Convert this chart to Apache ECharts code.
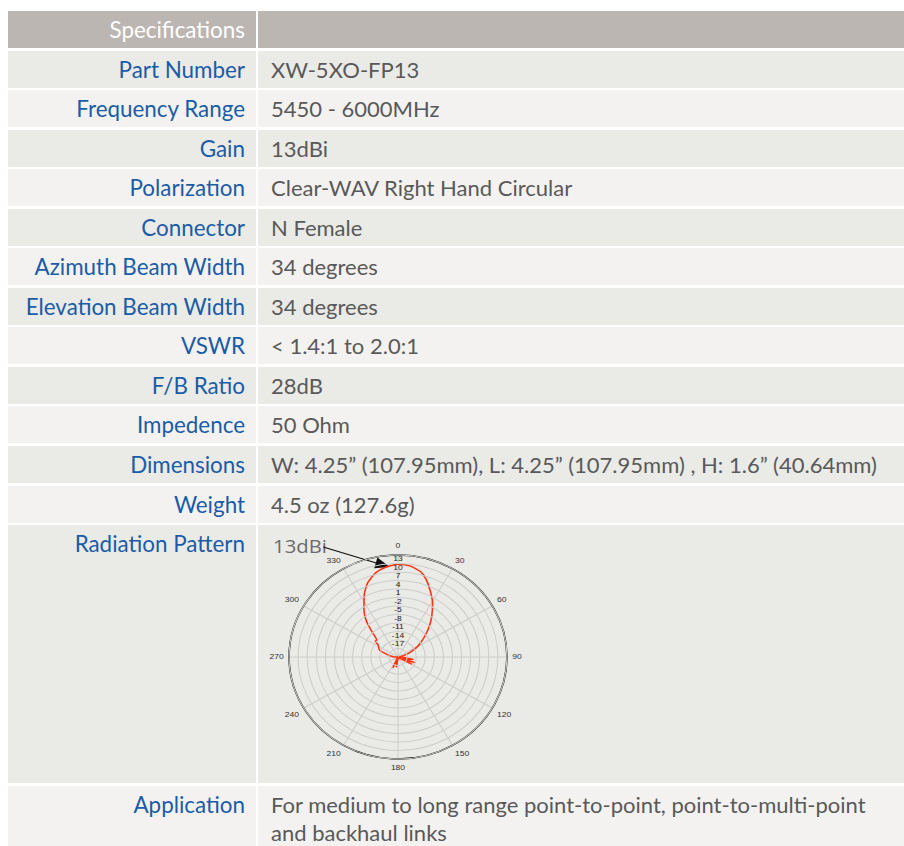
<!DOCTYPE html>
<html>
<head>
<meta charset="utf-8">
<script src="https://cdn.jsdelivr.net/npm/echarts@6/dist/echarts.min.js"></script>
<style>
  html, body { margin: 0; padding: 0; background: #ffffff; width: 904px; height: 846px; overflow: hidden; }
  .cell { position: absolute; box-sizing: border-box; font-family: Lato, "Open Sans", sans-serif; font-size: 22px; }
  .lab { left: 8px; width: 248px; text-align: right; color: #1a5ca8; font-size: 22.4px; }
  .val { left: 258px; right: 0; color: #595959; }
  .rowA { background: #eaeae6; }
  .rowB { background: #f3f2f0; }
  .hdr { background: #bbb6b2; color: #ffffff; }
  .txt { position: absolute; white-space: nowrap; }
  #chart { position: absolute; left: 258px; top: 525px; width: 300px; height: 258px; transform-origin: 140px 132px; transform: scaleX(1.068); }
</style>
</head>
<body>
<div id="table"></div>
<div id="chart"></div>
<script>
// ---- table content ----
const headerLabel = "Specifications";
const rowLabels = ["Part Number", "Frequency Range", "Gain", "Polarization", "Connector",
  "Azimuth Beam Width", "Elevation Beam Width", "VSWR", "F/B Ratio", "Impedence",
  "Dimensions", "Weight", "Radiation Pattern", "Application"];
const rowValues = ["XW-5XO-FP13", "5450 - 6000MHz", "13dBi", "Clear-WAV Right Hand Circular",
  "N Female", "34 degrees", "34 degrees", "< 1.4:1 to 2.0:1", "28dB", "50 Ohm",
  "W: 4.25\u201d (107.95mm), L: 4.25\u201d (107.95mm) , H: 1.6\u201d (40.64mm)", "4.5 oz (127.6g)", "",
  "For medium to long range point-to-point, point-to-multi-point\nand backhaul links"];

// ---- radiation pattern ----
const annotationText = "13dBi";
const angleTicks = [0, 30, 60, 90, 120, 150, 180, 210, 240, 270, 300, 330];
const radiusTickLabels = ["-17", "-14", "-11", "-8", "-5", "-2", "1", "4", "7", "10", "13"];
const radiusMinDb = -23;
const radiusMaxDb = 13;
const radiusStepDb = 3;
const patternAngles = [0, 7, 14, 19, 25, 31, 38, 45, 51, 55, 60, 64, 70, 75, 85, 95, 100, 106, 110, 115, 119, 124, 135, 160, 180, 188, 196, 204, 212, 240, 265, 272, 284, 292, 303, 307, 310, 315, 320, 326, 333, 339, 346, 353, 360];
const patternGainDb = [9.8, 9.4, 8.0, 5.8, 2.4, -0.8, -4.9, -8.7, -11.8, -13.6, -15.5, -17.4, -19.5, -21.2, -22.5, -21.0, -17.8, -21.5, -17.0, -21.5, -17.8, -22.0, -22.8, -23.0, -22.5, -19.3, -22.0, -18.8, -22.5, -23.0, -22.5, -21.4, -19.2, -16.4, -15.2, -13.6, -13.9, -11.4, -7.0, -2.9, 1.6, 5.0, 7.6, 9.0, 9.8];

// ---- build table ----
const table = document.getElementById('table');
const pitch = 39.55, firstTop = 50.5, rowH = 37;
function addRow(top, height, cls, label, value) {
  const l = document.createElement('div');
  l.className = 'cell lab ' + cls;
  l.style.top = top + 'px'; l.style.height = height + 'px';
  const lt = document.createElement('span');
  lt.className = 'txt'; lt.textContent = label;
  lt.style.right = '11px'; lt.style.top = '5px';
  l.appendChild(lt);
  table.appendChild(l);
  const v = document.createElement('div');
  v.className = 'cell val ' + cls;
  v.style.top = top + 'px'; v.style.height = height + 'px';
  value.split('\n').forEach((ln, k) => {
    const s = document.createElement('span');
    s.className = 'txt'; s.textContent = ln;
    s.style.left = '13px'; s.style.top = (5 + k * 28) + 'px';
    v.appendChild(s);
  });
  table.appendChild(v);
}
addRow(10.7, 37, 'hdr', headerLabel, '');
for (let i = 0; i < rowLabels.length; i++) {
  let top = firstTop + i * pitch;
  let h = rowH;
  if (i === 12) h = 258;
  if (i === 13) { top = 786; h = 70; }
  addRow(top, h, i % 2 === 0 ? 'rowA' : 'rowB', rowLabels[i], rowValues[i]);
}

// ---- chart ----
const chart = echarts.init(document.getElementById('chart'), null, { renderer: 'svg' });
const seriesData = patternAngles.map((a, i) => [patternGainDb[i] - radiusMinDb, a]);
const option = {
  animation: false,
  polar: { center: [140, 132], radius: 102 },
  angleAxis: {
    type: 'value', min: 0, max: 360, interval: 30, startAngle: 90, clockwise: true,
    axisLine: { lineStyle: { color: '#000000', width: 1.5 } },
    axisTick: { show: false },
    axisLabel: {
      fontSize: 8, color: '#333333', margin: 5, fontFamily: 'Liberation Sans, Arial, sans-serif',
      formatter: v => (angleTicks.indexOf(v) >= 0 ? String(v) : '')
    },
    splitLine: { lineStyle: { color: '#cdcdcd', width: 1 } }
  },
  radiusAxis: {
    type: 'value', min: 0, max: radiusMaxDb - radiusMinDb, interval: radiusStepDb,
    axisLine: { show: false }, axisTick: { show: false },
    splitLine: { lineStyle: { color: '#cdcdcd', width: 1 } },
    axisLabel: {
      showMaxLabel: true, showMinLabel: true,
      fontSize: 8, color: '#222222', align: 'center', verticalAlign: 'top', margin: 0,
      fontFamily: 'Liberation Sans, Arial, sans-serif',
      formatter: v => { const s = String(v + radiusMinDb); return radiusTickLabels.indexOf(s) >= 0 ? s : ''; }
    },
    z: 10
  },
  series: [{
    type: 'line', coordinateSystem: 'polar', data: seriesData,
    symbol: 'none', smooth: 0.2,
    lineStyle: { color: '#ff3412', width: 1.5 }, z: 5
  }],
  graphic: [
    { type: 'text', left: 23, top: 11, style: { text: annotationText, fontSize: 19, lineHeight: 15, fill: '#6a6a6a', fontFamily: 'Open Sans, sans-serif' } },
    { type: 'line', shape: { x1: 70, y1: 22, x2: 122, y2: 38.7 }, style: { stroke: '#111111', lineWidth: 1.2 } },
    { type: 'polygon', shape: { points: [[132.5, 42], [117.7, 43.2], [120.7, 32.4]] }, style: { fill: '#111111' } }
  ]
};
chart.setOption(option);
</script>
</body>
</html>
